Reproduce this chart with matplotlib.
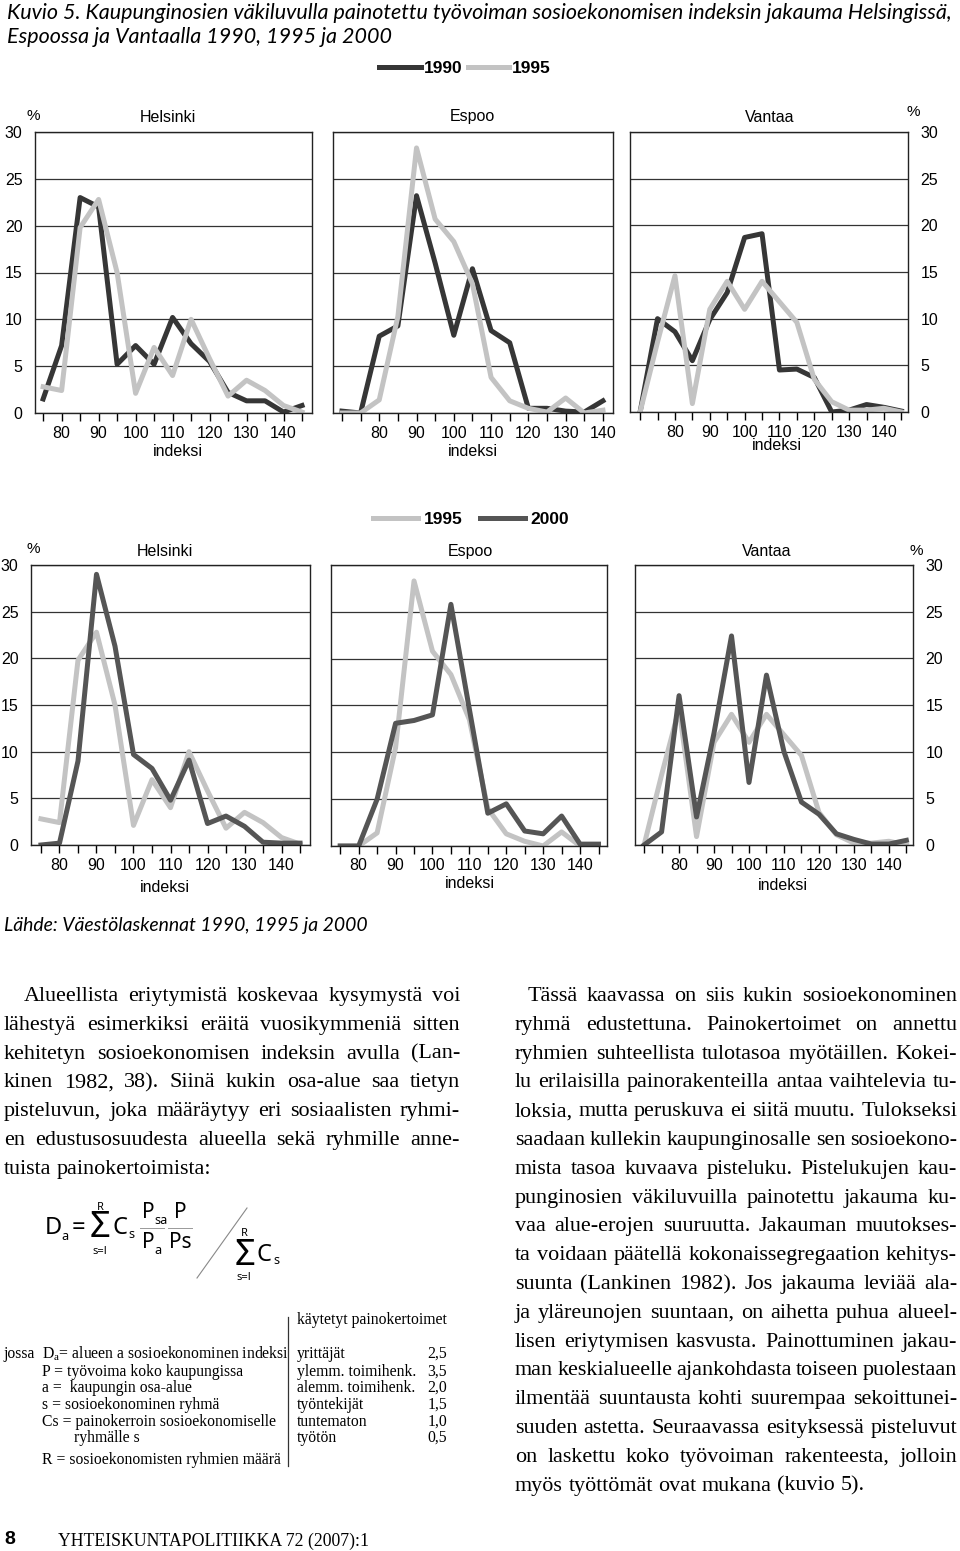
import matplotlib
matplotlib.use("Agg")
import matplotlib.pyplot as plt
from matplotlib.lines import Line2D

# ---- data ----
x_75_145 = [75, 80, 85, 90, 95, 100, 105, 110, 115, 120, 125, 130, 135, 140, 145]
x_70_140 = [70, 75, 80, 85, 90, 95, 100, 105, 110, 115, 120, 125, 130, 135, 140]
x_70_145 = [70, 75, 80, 85, 90, 95, 100, 105, 110, 115, 120, 125, 130, 135, 140, 145]

hel_1990 = [1.5, 7.2, 23.0, 22.0, 5.2, 7.2, 5.2, 10.2, 7.4, 5.5, 2.2, 1.3, 1.3, 0.1, 0.8]
hel_1995 = [2.8, 2.4, 19.8, 22.8, 15.0, 2.1, 7.0, 4.0, 10.0, 5.8, 1.8, 3.5, 2.4, 0.8, 0.1]
hel_2000 = [0.0, 0.2, 9.0, 29.0, 21.3, 9.7, 8.2, 4.8, 9.1, 2.3, 3.1, 2.0, 0.3, 0.2, 0.2]

esp_1990 = [0.2, 0.0, 8.2, 9.3, 23.2, 16.0, 8.3, 15.4, 8.8, 7.5, 0.5, 0.5, 0.2, 0.1, 1.3]
esp_1995_top = [0.0, 0.0, 1.4, 10.3, 28.3, 20.7, 18.3, 13.8, 3.8, 1.3, 0.5, 0.1, 1.6, 0.0, 0.3]
esp_1995_bot = [0.0, 0.0, 1.4, 10.5, 28.3, 20.8, 18.3, 13.5, 4.0, 1.3, 0.5, 0.0, 1.5, 0.0, 0.0]
esp_2000 = [0.0, 0.0, 5.0, 13.1, 13.4, 14.0, 25.8, 14.6, 3.5, 4.5, 1.6, 1.3, 3.2, 0.2, 0.2]

van_1990 = [0.0, 10.0, 8.6, 5.5, 9.9, 12.8, 18.7, 19.1, 4.5, 4.6, 3.7, 0.0, 0.2, 0.8, 0.5, 0.1]
van_1995 = [0.0, 7.5, 14.6, 0.9, 11.0, 14.0, 11.0, 14.0, 11.8, 9.6, 3.5, 1.1, 0.2, 0.2, 0.4, 0.0]
van_2000 = [0.0, 1.4, 16.0, 3.0, 12.0, 22.4, 6.7, 18.2, 10.0, 4.6, 3.3, 1.2, 0.6, 0.1, 0.1, 0.5]

y_ticks = [0, 5, 10, 15, 20, 25, 30]
x_labels = [80, 90, 100, 110, 120, 130, 140]

title_lines = ["Kuvio 5. Kaupunginosien väkiluvulla painotettu työvoiman sosioekonomisen indeksin jakauma Helsingissä,",
               "Espoossa ja Vantaalla 1990, 1995 ja 2000"]
source = "Lähde: Väestölaskennat 1990, 1995 ja 2000"

left_text = [
    "Alueellista eriytymistä koskevaa kysymystä voi",
    "lähestyä esimerkiksi eräitä vuosikymmeniä sitten",
    "kehitetyn sosioekonomisen indeksin avulla (Lan-",
    "kinen 1982, 38). Siinä kukin osa-alue saa tietyn",
    "pisteluvun, joka määräytyy eri sosiaalisten ryhmi-",
    "en edustusosuudesta alueella sekä ryhmille anne-",
    "tuista painokertoimista:",
]
right_text = [
    "Tässä kaavassa on siis kukin sosioekonominen",
    "ryhmä edustettuna. Painokertoimet on annettu",
    "ryhmien suhteellista tulotasoa myötäillen. Kokei-",
    "lu erilaisilla painorakenteilla antaa vaihtelevia tu-",
    "loksia, mutta peruskuva ei siitä muutu. Tulokseksi",
    "saadaan kullekin kaupunginosalle sen sosioekono-",
    "mista tasoa kuvaava pisteluku. Pistelukujen kau-",
    "punginosien väkiluvuilla painotettu jakauma ku-",
    "vaa alue-erojen suuruutta. Jakauman muutokses-",
    "ta voidaan päätellä kokonaissegregaation kehitys-",
    "suunta (Lankinen 1982). Jos jakauma leviää ala-",
    "ja yläreunojen suuntaan, on aihetta puhua alueel-",
    "lisen eriytymisen kasvusta. Painottuminen jakau-",
    "man keskialueelle ajankohdasta toiseen puolestaan",
    "ilmentää suuntausta kohti suurempaa sekoittunei-",
    "suuden astetta. Seuraavassa esityksessä pisteluvut",
    "on laskettu koko työvoiman rakenteesta, jolloin",
    "myös työttömät ovat mukana (kuvio 5).",
]
legend_defs = [
    r"D$_{\mathregular{a}}$= alueen a sosioekonominen indeksi",
    "P = työvoima koko kaupungissa",
    "a =  kaupungin osa-alue",
    "s = sosioekonominen ryhmä",
    "Cs = painokerroin sosioekonomiselle",
    "        ryhmälle s",
    "R = sosioekonomisten ryhmien määrä",
]
weight_groups = ["yrittäjät", "ylemm. toimihenk.", "alemm. toimihenk.", "työntekijät", "tuntematon", "työtön"]
weight_values = ["2,5", "3,5", "2,0", "1,5", "1,0", "0,5"]
footer = "YHTEISKUNTAPOLITIIKKA 72 (2007):1"

W, H = 960, 1551
DARK = "#363636"
DARK2 = "#555555"
LIGHT = "#c3c3c3"
SANS = "Liberation Sans"
SERIF = "Liberation Serif"
ITAL = "Lato"

plt.rcParams["mathtext.fontset"] = "custom"
plt.rcParams["mathtext.rm"] = SERIF

fig = plt.figure(figsize=(W / 100, H / 100), dpi=100)
fig.patch.set_facecolor("white")
rend = fig.canvas.get_renderer()


def fx(x):
    return x / W


def fy(y):
    return 1 - y / H


def width_of(s, size, family, **kw):
    t = fig.text(0, 0, s, fontsize=size, family=family, **kw)
    w = t.get_window_extent(renderer=rend).width
    t.remove()
    return w


def fit_size(s, target, family, **kw):
    return 10 * target / width_of(s, 10, family, **kw)


def panel(l, t, r, b, xlim, xticks_all, side):
    ax = fig.add_axes([fx(l), fy(b), (r - l) / W, (b - t) / H])
    ax.set_xlim(*xlim)
    ax.set_ylim(0, 30)
    ax.set_xticks(x_labels)
    ax.set_xticklabels([str(v) for v in x_labels], fontsize=11.5, family=SANS)
    ax.set_xticks([v for v in xticks_all if v not in x_labels], minor=True)
    ax.tick_params(axis="x", which="both", direction="out", length=6, width=1, pad=3)
    ax.set_yticks(y_ticks)
    ax.grid(axis="y", color="#333333", lw=0.9)
    ax.set_axisbelow(True)
    if side == "left":
        ax.set_yticklabels([str(v) for v in y_ticks], fontsize=11.5, family=SANS)
        ax.tick_params(axis="y", length=0, pad=9)
    elif side == "right":
        ax.yaxis.tick_right()
        ax.set_yticklabels([str(v) for v in y_ticks], fontsize=11.5, family=SANS)
        ax.tick_params(axis="y", length=0, pad=9)
    else:
        ax.set_yticklabels([])
        ax.tick_params(axis="y", length=0)
    for s in ax.spines.values():
        s.set_linewidth(1.0)
        s.set_color("#222222")
    return ax


lw = 3.6
# ---- top row: 1990 vs 1995 ----
ax1 = panel(35, 132, 312, 413, (72.8, 147.7), x_75_145, "left")
h90, = ax1.plot(x_75_145, hel_1990, color=DARK, lw=lw)
h95, = ax1.plot(x_75_145, hel_1995, color=LIGHT, lw=lw)
ax2 = panel(333, 132, 613, 413, (67.6, 142.7), x_70_140, "none")
ax2.plot(x_70_140, esp_1990, color=DARK, lw=lw)
ax2.plot(x_70_140, esp_1995_top, color=LIGHT, lw=lw)
ax3 = panel(630, 132, 908, 412, (67.1, 146.9), x_70_145, "right")
ax3.plot(x_70_145, van_1990, color=DARK, lw=lw)
ax3.plot(x_70_145, van_1995, color=LIGHT, lw=lw)

# ---- bottom row: 1995 vs 2000 ----
ax4 = panel(31, 565, 310, 845, (72.3, 147.7), x_75_145, "left")
b95, = ax4.plot(x_75_145, hel_1995, color=LIGHT, lw=lw)
b00, = ax4.plot(x_75_145, hel_2000, color=DARK2, lw=lw)
ax5 = panel(331, 565, 607, 846, (72.5, 147.3), x_75_145, "none")
ax5.plot(x_75_145, esp_1995_bot, color=LIGHT, lw=lw)
ax5.plot(x_75_145, esp_2000, color=DARK2, lw=lw)
ax6 = panel(635, 565, 913, 845, (67.4, 146.9), x_70_145, "right")
ax6.plot(x_70_145, van_1995, color=LIGHT, lw=lw)
ax6.plot(x_70_145, van_2000, color=DARK2, lw=lw)

# panel captions
for (x, y, s) in [(168, 117, "Helsinki"), (472, 117, "Espoo"), (770, 117, "Vantaa"),
                  (165, 551, "Helsinki"), (470, 552, "Espoo"), (767, 552, "Vantaa")]:
    fig.text(fx(x), fy(y), s, ha="center", va="center", fontsize=11.5, family=SANS)
for (x, y) in [(33, 116), (913, 112), (33, 549), (916, 551)]:
    fig.text(fx(x), fy(y), "%", ha="center", va="center", fontsize=11, family=SANS)
for (x, y) in [(178, 452), (473, 452), (777, 446), (165, 888), (470, 884), (783, 886)]:
    fig.text(fx(x), fy(y), "indeksi", ha="center", va="center", fontsize=11.5, family=SANS)

# legends
fig.legend([h90, h95], ["1990", "1995"], loc="center", bbox_to_anchor=(fx(465), fy(68)),
           ncol=2, frameon=False, handlelength=2.4, handletextpad=0.15, columnspacing=0.3,
           prop={"family": SANS, "weight": "bold", "size": 12.5})
fig.legend([b95, b00], ["1995", "2000"], loc="center", bbox_to_anchor=(fx(471), fy(519)),
           ncol=2, frameon=False, handlelength=2.6, handletextpad=0.3, columnspacing=1.0,
           prop={"family": SANS, "weight": "bold", "size": 12.5})

# title and source
ts = fit_size(title_lines[0], 947, ITAL, style="italic")
fig.text(fx(7), fy(19), title_lines[0], ha="left", va="baseline", fontsize=ts, style="italic", family=ITAL)
fig.text(fx(7), fy(43), title_lines[1], ha="left", va="baseline", fontsize=ts, style="italic", family=ITAL)
ss = fit_size(source, 364, ITAL, style="italic")
fig.text(fx(4), fy(931), source, ha="left", va="baseline", fontsize=ss, style="italic", family=ITAL)


# ---- body text (justified) ----
def justify(lines, x0, x1, y0, dy, indent, size, family):
    space = width_of("a a", size, family) - width_of("aa", size, family)
    for i, line in enumerate(lines):
        y = y0 + i * dy
        start = x0 + (indent if i == 0 else 0)
        words = line.split(" ")
        widths = [width_of(w, size, family) for w in words]
        if i == len(lines) - 1 or len(words) == 1:
            gap = space
        else:
            gap = max(0.55 * space, (x1 - start - sum(widths)) / (len(words) - 1))
        x = start
        for w, wd in zip(words, widths):
            fig.text(fx(x), fy(y), w, ha="left", va="baseline", fontsize=size, family=family)
            x += wd + gap


def body_fit(lines, colw, family):
    best = 100
    for line in lines[:-1]:
        n = width_of(line, 10, family)
        best = min(best, 10 * colw / n)
    return best


bs = min(body_fit(left_text, 456, SERIF), body_fit(right_text, 442, SERIF)) * 1.015
justify(left_text, 4, 460, 1001, 28.8, 20, bs, SERIF)
justify(right_text, 515, 957, 1001, 28.8, 13, bs, SERIF)

# ---- formula ----
FS = ["Noto Sans", "DejaVu Sans"]
fig.text(fx(45), fy(1228), "D", ha="left", va="center", fontsize=17, family=FS)
fig.text(fx(61), fy(1236), "a", ha="left", va="center", fontsize=9, family=FS)
fig.text(fx(72), fy(1228), "=", ha="left", va="center", fontsize=17, family=FS)
fig.text(fx(100), fy(1228), "\u03a3", ha="center", va="center", fontsize=26, family=FS)
fig.text(fx(100), fy(1207), "R", ha="center", va="center", fontsize=8, family=FS)
fig.text(fx(100), fy(1251), "s=l", ha="center", va="center", fontsize=8, family=FS)
fig.text(fx(112), fy(1228), "C", ha="left", va="center", fontsize=17, family=FS)
fig.text(fx(128), fy(1234), "s", ha="left", va="center", fontsize=9, family=FS)
fig.text(fx(142), fy(1213), "P", ha="left", va="center", fontsize=15, family=FS)
fig.text(fx(154), fy(1220), "sa", ha="left", va="center", fontsize=9, family=FS)
fig.text(fx(142), fy(1243), "P", ha="left", va="center", fontsize=15, family=FS)
fig.text(fx(154), fy(1251), "a", ha="left", va="center", fontsize=9, family=FS)
fig.text(fx(180), fy(1213), "P", ha="center", va="center", fontsize=15, family=FS)
fig.text(fx(180), fy(1243), "Ps", ha="center", va="center", fontsize=15, family=FS)
fig.add_artist(Line2D([fx(140), fx(164)], [fy(1228), fy(1228)], color="#999999", lw=0.7))
fig.add_artist(Line2D([fx(168), fx(192)], [fy(1228), fy(1228)], color="#999999", lw=0.7))
fig.add_artist(Line2D([fx(197), fx(247)], [fy(1278), fy(1208)], color="#888888", lw=0.8))
fig.text(fx(245), fy(1256), "\u03a3", ha="center", va="center", fontsize=26, family=FS)
fig.text(fx(244), fy(1233), "R", ha="center", va="center", fontsize=8, family=FS)
fig.text(fx(244), fy(1277), "s=l", ha="center", va="center", fontsize=8, family=FS)
fig.text(fx(257), fy(1255), "C", ha="left", va="center", fontsize=17, family=FS)
fig.text(fx(273), fy(1261), "s", ha="left", va="center", fontsize=9, family=FS)

# ---- definitions and weights ----
TS = 11.3
fig.text(fx(3), fy(1354), "jossa", ha="left", va="center", fontsize=TS, family=SERIF)
def_rows = [1354, 1372, 1388, 1405, 1422, 1438, 1460]
for y, s in zip(def_rows, legend_defs):
    fig.text(fx(42), fy(y), s, ha="left", va="center", fontsize=TS, family=SERIF)
fig.add_artist(Line2D([fx(288), fx(288)], [fy(1317), fy(1466)], color="#333333", lw=0.9))
fig.text(fx(297), fy(1320), "käytetyt painokertoimet", ha="left", va="center", fontsize=TS, family=SERIF)
for y, g, v in zip(def_rows[:6], weight_groups, weight_values):
    fig.text(fx(297), fy(y), g, ha="left", va="center", fontsize=TS, family=SERIF)
    fig.text(fx(447), fy(y), v, ha="right", va="center", fontsize=TS, family=SERIF)

# ---- footer ----
fig.text(fx(4), fy(1540), "8", ha="left", va="center", fontsize=14, weight="bold", family=SANS)
fs_ = fit_size(footer, 310, SERIF)
fig.text(fx(58), fy(1541), footer, ha="left", va="center", fontsize=fs_, family=SERIF)

fig.savefig("out.png", dpi=100, facecolor="white")
plt.close(fig)
